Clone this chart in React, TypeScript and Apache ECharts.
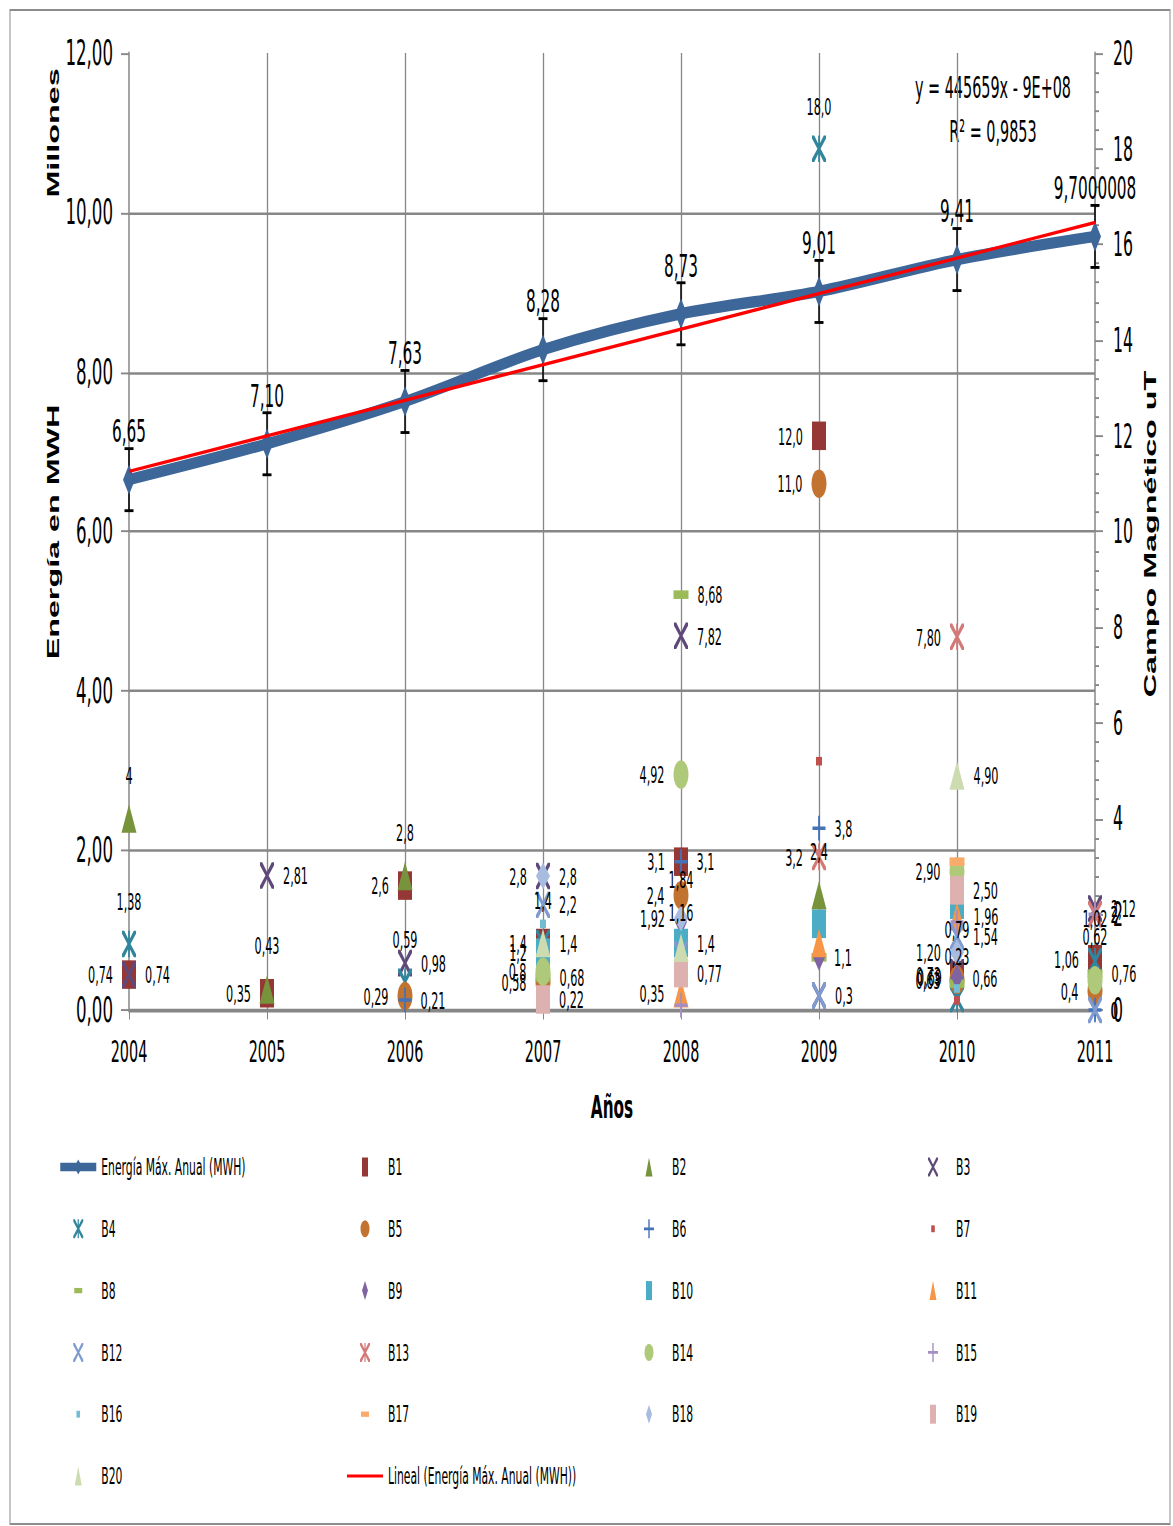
import React, { useEffect, useRef } from "react";
import * as echarts from "echarts";

// ---------------- DATA ----------------
const YEARS = [2004, 2005, 2006, 2007, 2008, 2009, 2010, 2011];
// Energía Máx. Anual (MWH), in millions
const ENERGY = [6.65, 7.1, 7.63, 8.28, 8.73, 9.01, 9.41, 9.7000008];
const ENERGY_LABELS = ["6,65", "7,10", "7,63", "8,28", "8,73", "9,01", "9,41", "9,7000008"];
const ENERGY_ERROR = 0.389; // standard error bar
const TREND_X = [2004, 2011];
const TREND_Y = [6.754, 9.874];
const TREND_EQUATION = "y = 445659x - 9E+08";
const TREND_R2 = "R² = 0,9853";

const N = null;
const B1 = [0.74, 0.35, 2.6, 1.4, 3.1, 12.0, 0.73, 1.06];
const B1_LBL = ["0,74", "0,35", "2,6", "1,4", "3,1", "12,0", "0,73", "1,06"];
const B2 = [4, 0.43, 2.8, N, N, 2.4, N, N];
const B2_LBL = ["4", "0,43", "2,8", N, N, "2,4", N, N];
const B3 = [0.74, 2.81, 0.98, 2.8, 7.82, 0.3, 0.79, 2.12];
const B3_LBL = ["0,74", "2,81", "0,98", "2,8", "7,82", "0,3", "0,79", "2,12"];
const B4 = [1.38, N, 0.59, 1.4, N, 18.0, 0.23, 1.02];
const B4_LBL = ["1,38", N, "0,59", "1,4", N, "18,0", "0,23", "1,02"];
const B5 = [N, N, 0.29, 0.58, 2.4, 11.0, 0.63, 0.4];
const B5_LBL = [N, N, "0,29", "0,58", "2,4", "11,0", "0,63", "0,4"];
const B6 = [N, N, 0.21, N, 3.1, 3.8, 0.66, 0];
const B6_LBL = [N, N, "0,21", N, "3,1", "3,8", "0,66", "0"];
const B7 = [N, N, N, N, N, 5.2, 0.2, N];
const B7_LBL = [N, N, N, N, N, N, N, N];
const B8 = [N, N, N, 0.68, 8.68, 1.1, 0.55, 0.76];
const B8_LBL = [N, N, N, "0,68", "8,68", N, N, "0,76"];
const B9 = [N, N, N, N, 1.84, 1.1, 0.69, N];
const B9_LBL = [N, N, N, N, "1,84", "1,1", "0,69", N];
const B10 = [N, N, N, 1.2, 1.4, 1.8, 2.2, N];
const B10_LBL = [N, N, N, "1,2", "1,4", N, N, N];
const B11 = [N, N, N, N, 0.35, 1.4, 1.96, N];
const B11_LBL = [N, N, N, N, "0,35", N, "1,96", N];
const B12 = [N, N, N, 2.2, 1.16, 0.3, 1.54, 0];
const B12_LBL = [N, N, N, "2,2", "1,16", N, "1,54", "0"];
const B13 = [N, N, N, N, N, 3.2, 7.8, 2];
const B13_LBL = [N, N, N, N, N, "3,2", "7,80", "2"];
const B14 = [N, N, N, 0.8, 4.92, N, 2.9, 0.62];
const B14_LBL = [N, N, N, "0,8", "4,92", N, "2,90", "0,62"];
const B15 = [N, N, N, N, 0.1, N, 1.84, 2];
const B15_LBL = [N, N, N, N, N, N, N, "2"];
const B16 = [N, N, N, 1.8, N, N, 0.45, N];
const B16_LBL = [N, N, N, N, N, N, N, N];
const B17 = [N, N, N, N, N, N, 3.1, N];
const B17_LBL = [N, N, N, N, N, N, N, N];
const B18 = [N, N, N, 2.8, 1.92, N, 1.2, N];
const B18_LBL = [N, N, N, "2,8", "1,92", N, "1,20", N];
const B19 = [N, N, N, 0.22, 0.77, N, 2.5, N];
const B19_LBL = [N, N, N, "0,22", "0,77", N, "2,50", N];
const B20 = [N, N, N, 1.4, 1.3, N, 4.9, N];
const B20_LBL = [N, N, N, "1,4", N, N, "4,90", N];

const B_SERIES: [string, (number | null)[], (string | null)[]][] = [
  ["B1", B1, B1_LBL], ["B2", B2, B2_LBL], ["B3", B3, B3_LBL], ["B4", B4, B4_LBL],
  ["B5", B5, B5_LBL], ["B6", B6, B6_LBL], ["B7", B7, B7_LBL], ["B8", B8, B8_LBL],
  ["B9", B9, B9_LBL], ["B10", B10, B10_LBL], ["B11", B11, B11_LBL], ["B12", B12, B12_LBL],
  ["B13", B13, B13_LBL], ["B14", B14, B14_LBL], ["B15", B15, B15_LBL], ["B16", B16, B16_LBL],
  ["B17", B17, B17_LBL], ["B18", B18, B18_LBL], ["B19", B19, B19_LBL], ["B20", B20, B20_LBL],
];

const ENERGY_NAME = "Energía Máx. Anual (MWH)";
const TREND_NAME = "Lineal (Energía Máx. Anual (MWH))";
const LEGEND_COLS = [
  [ENERGY_NAME, "B4", "B8", "B12", "B16", "B20"],
  ["B1", "B5", "B9", "B13", "B17", TREND_NAME],
  ["B2", "B6", "B10", "B14", "B18"],
  ["B3", "B7", "B11", "B15", "B19"],
];

// ---------------- STYLE ----------------
const CH = 803; // chart drawn in a compressed box then stretched vertically
const SY = 1526 / CH;
const Y = (v: number) => v / SY;

const FONT = '"Liberation Sans Narrow", "DejaVu Sans Condensed", "Arial Narrow", sans-serif';
const BOLD_FONT = '"Liberation Sans", Arial, sans-serif';
const GRID_COLOR = "#878787";

const X_PATH =
  "path://M0,0 L1.6,0 L5,3.7 L8.4,0 L10,0 L10,1.2 L6.1,5 L10,8.8 L10,10 L8.4,10 L5,6.3 L1.6,10 L0,10 L0,8.8 L3.9,5 L0,1.2 Z";
const STAR_PATH = X_PATH + " M4.4,0 L5.6,0 L5.6,10 L4.4,10 Z";
const PLUS_PATH = "path://M4.3,0 L5.7,0 L5.7,4.3 L10,4.3 L10,5.7 L5.7,5.7 L5.7,10 L4.3,10 L4.3,5.7 L0,5.7 L0,4.3 L4.3,4.3 Z";
const DOT_ICON = "path://M0,0 M10,10 M3.2,3.2 L6.8,3.2 L6.8,6.8 L3.2,6.8 Z";
const DASH_ICON = "path://M0,0 M10,10 M1,3.6 L9,3.6 L9,6.4 L1,6.4 Z";
const RECT_ICON = "path://M0,0 M10,10 M2,0 L8,0 L8,10 L2,10 Z";
const TRI_ICON = "path://M0,0 M10,10 M5,0 L8.5,10 L1.5,10 Z";
const DIAMOND_ICON = "path://M0,0 M10,10 M5,0 L8,5 L5,10 L2,5 Z";
const CIRCLE_ICON = "path://M0,0 M10,10 M5,0.5 A4.5,4.5 0 1,1 5,9.5 A4.5,4.5 0 1,1 5,0.5 Z";
const TREND_ICON = "path://M0,0 L36,0 L36,1.6 L0,1.6 Z";

const COLORS: Record<string, string> = {
  B1: "#953735", B2: "#77933C", B3: "#5F497A", B4: "#31859C", B5: "#C2732F",
  B6: "#4573B8", B7: "#C0504D", B8: "#9BBB59", B9: "#8064A2", B10: "#4BACC6",
  B11: "#F79646", B12: "#7F9BD0", B13: "#D27A78", B14: "#AFC97A", B15: "#A58FC2",
  B16: "#72BCD4", B17: "#F9AB6B", B18: "#A8BCE0", B19: "#DDB1B0", B20: "#CCDCB0",
};
const MARKERS: Record<string, [string, number | number[]]> = {
  B1: ["rect", [14, 15]], B2: ["triangle", 15], B3: [X_PATH, 14], B4: [STAR_PATH, 14],
  B5: ["circle", 15], B6: [PLUS_PATH, 13], B7: ["rect", [6, 4.5]], B8: ["rect", [15, 4.5]],
  B9: ["diamond", [12, 14]], B10: ["rect", [14, 15]], B11: ["triangle", 15], B12: [X_PATH, 14],
  B13: [STAR_PATH, 14], B14: ["circle", 15], B15: [PLUS_PATH, 13], B16: ["rect", [6, 4.5]],
  B17: ["rect", [15, 4.5]], B18: ["diamond", [14, 14]], B19: ["rect", [14, 15]], B20: ["triangle", 15],
};
const LEGEND_ICONS: Record<string, string> = {
  B1: RECT_ICON, B10: RECT_ICON, B19: RECT_ICON,
  B2: TRI_ICON, B11: TRI_ICON, B20: TRI_ICON,
  B5: CIRCLE_ICON, B14: CIRCLE_ICON,
  B9: DIAMOND_ICON, B18: DIAMOND_ICON,
  B7: DOT_ICON, B16: DOT_ICON, B8: DASH_ICON, B17: DASH_ICON,
  [TREND_NAME]: TREND_ICON,
};
const LABEL_POS: Record<string, string> = {
  B1: "LLLLLLLL", B2: "TTT..T..", B3: "RRRRRRTR", B4: "T.TT.TTT", B5: "..LLLLLL",
  B6: "..R.RRRR", B7: "........", B8: "...RR..R", B9: "....TRL.", B10: "...LR...",
  B11: "....L.R.", B12: "...RT.RR", B13: ".....LLR", B14: "...LL.LT", B15: ".......R",
  B16: "........", B17: "........", B18: "...LL.L.", B19: "...RR.R.", B20: "...R..R.",
};
const POSMAP: Record<string, string> = { L: "left", R: "right", T: "top" };
const LEGEND_LEFT = [58, 347, 644, 928];
const LEGEND_ITEM_H = 12.0;

function buildOption() {
  const scatterSeries = B_SERIES.map(([name, vals, lbls]) => {
    const pos = LABEL_POS[name];
    const data: any[] = [];
    YEARS.forEach((yr, i) => {
      const v = vals[i];
      if (v === null || v === undefined) return;
      const t = lbls[i];
      data.push({
        value: [yr, v],
        label: t ? { show: true, position: POSMAP[pos[i]] || "top", formatter: t } : { show: false },
      });
    });
    return {
      name,
      type: "scatter",
      yAxisIndex: 1,
      clip: false,
      z: 5,
      symbol: MARKERS[name][0],
      symbolSize: MARKERS[name][1],
      itemStyle: { color: COLORS[name], opacity: 1 },
      label: { distance: 9, color: "#000", fontFamily: FONT, fontSize: 12.5 },
      data,
    };
  });

  const legends = LEGEND_COLS.map((col, ci) => ({
    orient: "vertical",
    left: LEGEND_LEFT[ci],
    top: Y(1167) - LEGEND_ITEM_H / 2,
    padding: 0,
    itemWidth: 36,
    itemHeight: 10,
    itemGap: (Y(1476) - Y(1167)) / 5 - LEGEND_ITEM_H,
    selectedMode: false,
    textStyle: { fontFamily: FONT, fontSize: 12, color: "#000", lineHeight: 12 },
    lineStyle: { width: 4.5 },
    data: col.map((n) => (LEGEND_ICONS[n] ? { name: n, icon: LEGEND_ICONS[n] } : { name: n })),
  }));

  return {
    animation: false,
    backgroundColor: "#fff",
    textStyle: { fontFamily: FONT },
    grid: { left: 129, width: 966, top: Y(53), height: Y(1010) - Y(53), containLabel: false },
    legend: legends,
    xAxis: {
      type: "value",
      min: 2004,
      max: 2011,
      interval: 1,
      axisLine: { show: true, lineStyle: { color: GRID_COLOR, width: 1.6 } },
      axisTick: { show: true, length: 5, lineStyle: { color: GRID_COLOR } },
      axisLabel: { color: "#000", fontFamily: FONT, fontSize: 16, margin: 14, formatter: (v: number) => String(v) },
      splitLine: { show: true, showMinLine: false, showMaxLine: false, lineStyle: { color: GRID_COLOR, width: 1.3 } },
    },
    yAxis: [
      {
        type: "value",
        min: 0,
        max: 12,
        interval: 2,
        axisLine: { show: true, lineStyle: { color: GRID_COLOR, width: 1.5 } },
        axisTick: { show: true, length: 8, lineStyle: { color: GRID_COLOR } },
        axisLabel: {
          color: "#000", fontFamily: FONT, fontSize: 18.5, margin: 16,
          formatter: (v: number) => v.toFixed(2).replace(".", ","),
        },
        splitLine: { show: true, showMaxLine: false, lineStyle: { color: GRID_COLOR, width: 1.3 } },
      },
      {
        type: "value",
        min: 0,
        max: 20,
        interval: 2,
        position: "right",
        axisLine: { show: true, lineStyle: { color: GRID_COLOR, width: 1.5 } },
        axisTick: { show: true, length: 8, lineStyle: { color: GRID_COLOR } },
        minorTick: { show: true, splitNumber: 5, length: 4, lineStyle: { color: GRID_COLOR } },
        axisLabel: { color: "#000", fontFamily: FONT, fontSize: 17.5, margin: 18 },
        splitLine: { show: false },
      },
    ],
    graphic: [
      {
        type: "rect",
        shape: { x: 10, y: Y(10), width: 1160, height: Y(1524) - Y(10) },
        style: { fill: "none", stroke: "#8c8c8c", lineWidth: 1 },
        z: -1,
      },
      {
        type: "text", x: 53, y: Y(133), rotation: Math.PI / 2,
        style: { text: "Millones", font: `bold 17px ${BOLD_FONT}`, fill: "#000", align: "center", verticalAlign: "middle" },
      },
      {
        type: "text", x: 53, y: Y(532), rotation: Math.PI / 2,
        style: { text: "Energía en MWH", font: `bold 17px ${BOLD_FONT}`, fill: "#000", align: "center", verticalAlign: "middle" },
      },
      {
        type: "text", x: 1150, y: Y(534), rotation: Math.PI / 2,
        style: { text: "Campo Magnético uT", font: `bold 17px ${BOLD_FONT}`, fill: "#000", align: "center", verticalAlign: "middle" },
      },
      {
        type: "text", x: 612, y: Y(1107),
        style: { text: "Años", font: `bold 17px ${FONT}`, fill: "#000", align: "center", verticalAlign: "middle" },
      },
      {
        type: "text", x: 993, y: Y(87),
        style: { text: TREND_EQUATION, font: `16px ${FONT}`, fill: "#000", align: "center", verticalAlign: "middle" },
      },
      {
        type: "text", x: 993, y: Y(131),
        style: { text: TREND_R2, font: `16px ${FONT}`, fill: "#000", align: "center", verticalAlign: "middle" },
      },
    ],
    series: [
      {
        type: "custom",
        yAxisIndex: 0,
        z: 1,
        silent: true,
        clip: false,
        encode: { x: 0, y: [1, 2] },
        data: YEARS.map((yr, i) => [yr, ENERGY[i] - ENERGY_ERROR, ENERGY[i] + ENERGY_ERROR]),
        renderItem: (params: any, api: any) => {
          const x = api.value(0);
          const lo = api.coord([x, api.value(1)]);
          const hi = api.coord([x, api.value(2)]);
          const w = 4.5;
          const st = { stroke: "#000", lineWidth: 1.5 };
          return {
            type: "group",
            children: [
              { type: "line", shape: { x1: lo[0], y1: lo[1], x2: hi[0], y2: hi[1] }, style: st },
              { type: "line", shape: { x1: lo[0] - w, y1: lo[1], x2: lo[0] + w, y2: lo[1] }, style: st },
              { type: "line", shape: { x1: hi[0] - w, y1: hi[1], x2: hi[0] + w, y2: hi[1] }, style: st },
            ],
          };
        },
      },
      {
        name: ENERGY_NAME,
        type: "line",
        yAxisIndex: 0,
        z: 3,
        smooth: 0.3,
        symbol: "diamond",
        symbolSize: [12, 16],
        lineStyle: { color: "#3D6699", width: 6 },
        itemStyle: { color: "#3D6699" },
        label: {
          show: true,
          position: "top",
          distance: 9,
          color: "#000",
          fontFamily: FONT,
          fontSize: 17,
          formatter: (p: any) => ENERGY_LABELS[p.dataIndex],
        },
        data: YEARS.map((yr, i) => [yr, ENERGY[i]]),
      },
      {
        name: TREND_NAME,
        type: "line",
        yAxisIndex: 0,
        z: 4,
        symbol: "none",
        lineStyle: { color: "#FF0000", width: 1.8 },
        itemStyle: { color: "#FF0000" },
        data: TREND_X.map((x, i) => [x, TREND_Y[i]]),
      },
      ...scatterSeries,
    ],
  };
}

export default function App() {
  const ref = useRef<HTMLDivElement>(null);
  useEffect(() => {
    const chart = echarts.init(ref.current as HTMLDivElement, null, { renderer: "svg" });
    chart.setOption(buildOption() as any);
    return () => chart.dispose();
  }, []);
  return (
    <div
      style={{
        position: "absolute",
        left: 0,
        top: 0,
        width: 1173,
        height: 1526,
        overflow: "hidden",
        background: "#fff",
      }}
    >
      <div
        ref={ref}
        style={{ width: 1173, height: CH, transform: `scaleY(${SY})`, transformOrigin: "0 0" }}
      />
    </div>
  );
}
